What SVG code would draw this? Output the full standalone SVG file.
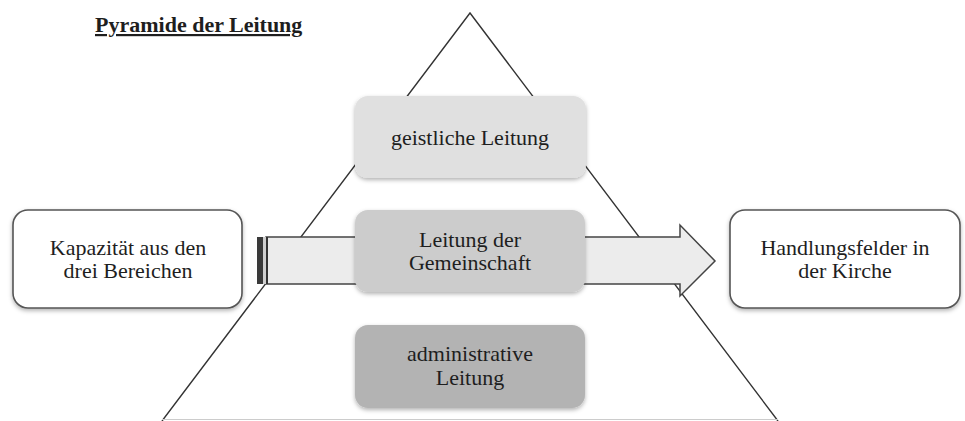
<svg xmlns="http://www.w3.org/2000/svg" width="965" height="421" viewBox="0 0 965 421">
  <style>
    text { font-family: "Liberation Serif", "Times New Roman", serif; font-size: 22px; fill: #1e1e1e; text-anchor: middle; }
    .title { font-weight: bold; text-anchor: start; text-decoration: underline; }
    .outer { fill: #ffffff; stroke: #555555; stroke-width: 1.6; }
    .inner { stroke: none; }
    .pyr { fill: none; stroke: #333333; stroke-width: 1.4; }
  </style>
  <defs>
    <filter id="sh" x="-10%" y="-10%" width="120%" height="130%">
      <feDropShadow dx="0" dy="2" stdDeviation="2" flood-color="#000000" flood-opacity="0.3"/>
    </filter>
  </defs>
  <rect width="965" height="421" fill="#ffffff"/>

  <text class="title" x="95" y="32">Pyramide der Leitung</text>

  <g id="pyramid">
    <polyline class="pyr" points="162,421 470,13 778,421"/>
    <line x1="162" y1="419.5" x2="778" y2="419.5" stroke="#cccccc" stroke-width="1.2"/>
  </g>

  <g id="connectors">
    <g id="arrow">
      <polygon points="266,237 680,237 680,225 715,261 680,296 680,284 266,284" fill="#ececec" stroke="#444444" stroke-width="1.5" stroke-linejoin="miter"/>
      <rect x="257" y="237" width="6" height="47" fill="#3a3a3a"/>
      <rect x="263" y="237" width="3" height="47" fill="#cfcfcf"/>
      <line x1="267" y1="237" x2="267" y2="284" stroke="#333333" stroke-width="2"/>
    </g>
  </g>

  <g id="geistliche">
    <rect class="inner" x="355" y="96" width="231" height="82" rx="13" fill="#e0e0e0" filter="url(#sh)"/>
    <text x="470" y="145">geistliche Leitung</text>
  </g>

  <g id="gemeinschaft">
    <rect class="inner" x="355" y="210" width="230" height="82" rx="13" fill="#cccccc" filter="url(#sh)"/>
    <text x="470" y="247">Leitung der</text>
    <text x="470" y="270">Gemeinschaft</text>
  </g>

  <g id="administrative">
    <rect class="inner" x="355" y="325" width="230" height="83" rx="13" fill="#b3b3b3" filter="url(#sh)"/>
    <text x="470" y="361">administrative</text>
    <text x="470" y="385">Leitung</text>
  </g>

  <g id="kapazitaet">
    <rect class="outer" x="13" y="210" width="229" height="98" rx="15" filter="url(#sh)"/>
    <text x="128" y="255">Kapazität aus den</text>
    <text x="128" y="278">drei Bereichen</text>
  </g>

  <g id="handlungsfelder">
    <rect class="outer" x="730" y="210" width="230" height="98" rx="15" filter="url(#sh)"/>
    <text x="845" y="255">Handlungsfelder in</text>
    <text x="845" y="278">der Kirche</text>
  </g>
</svg>
